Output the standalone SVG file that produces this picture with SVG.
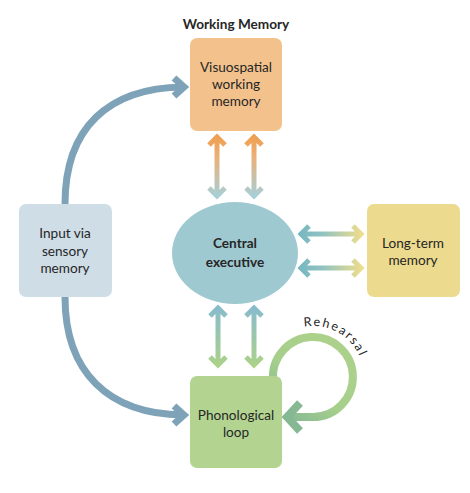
<svg xmlns="http://www.w3.org/2000/svg" width="470" height="493" viewBox="0 0 470 493">
<style>
.lbl{font-family:Lato,"Open Sans","Liberation Sans",sans-serif;font-size:13.6px;fill:#262626;text-anchor:middle}
.bold{font-weight:bold}
.dbl{fill:none;stroke-width:5}
.inp{fill:none;stroke:#7ea3b8;stroke-width:7}
</style>
<defs>
<linearGradient id="gUp" gradientUnits="userSpaceOnUse" x1="0" y1="137" x2="0" y2="197">
<stop offset="0" stop-color="#efa052"/><stop offset="0.35" stop-color="#eab07a"/><stop offset="1" stop-color="#a6d0d8"/>
</linearGradient>
<linearGradient id="gDown" gradientUnits="userSpaceOnUse" x1="0" y1="308" x2="0" y2="366">
<stop offset="0" stop-color="#88bccb"/><stop offset="1" stop-color="#acd28a"/>
</linearGradient>
<linearGradient id="gSide" gradientUnits="userSpaceOnUse" x1="300" y1="0" x2="362" y2="0">
<stop offset="0" stop-color="#78b8c0"/><stop offset="0.35" stop-color="#8fc2c2"/><stop offset="1" stop-color="#eedd8c"/>
</linearGradient>
<linearGradient id="gReh" gradientUnits="userSpaceOnUse" x1="350" y1="340" x2="285" y2="420">
<stop offset="0" stop-color="#add18a"/><stop offset="0.6" stop-color="#a6cf8c"/><stop offset="1" stop-color="#86b894"/>
</linearGradient>
<path id="rehPath" d="M313,428 A51,51 0 1 1 313,326 A51,51 0 1 1 313,428" transform="rotate(170 313 377)"/>
</defs>

<text class="lbl bold" x="236" y="29">Working Memory</text>

<g id="connectors">
<path class="inp" d="M65,204 C65,128 108,88 183,87"/>
<path class="inp" d="M174,78 L184,87 L174,96"/>
<path class="inp" d="M65,297 C65,372 108,414 183,415"/>
<path class="inp" d="M174,406 L184,415 L174,424"/>

<path class="dbl" stroke="url(#gUp)" d="M217,137 L217,196 M209,145 L217,137 L225,145 M209,188 L217,196 L225,188"/>
<path class="dbl" stroke="url(#gUp)" d="M254,137 L254,196 M246,145 L254,137 L262,145 M246,188 L254,196 L262,188"/>

<path class="dbl" stroke="url(#gDown)" d="M218,308 L218,365 M210,316 L218,308 L226,316 M210,357 L218,365 L226,357"/>
<path class="dbl" stroke="url(#gDown)" d="M254,308 L254,365 M246,316 L254,308 L262,316 M246,357 L254,365 L262,357"/>

<path class="dbl" stroke="url(#gSide)" d="M301,234 L361,234 M309,226 L301,234 L309,242 M353,226 L361,234 L353,242"/>
<path class="dbl" stroke="url(#gSide)" d="M301,268 L361,268 M309,260 L301,268 L309,276 M353,260 L361,268 L353,276"/>

<path fill="none" stroke="url(#gReh)" stroke-width="8" d="M273,380 A40,40 0 1 1 313,417 L288,417"/>
<path fill="none" stroke="#86b894" stroke-width="8" d="M300,403 L287,417 L300,431"/>
</g>

<g id="visuospatial">
<rect x="190" y="38" width="92" height="93" rx="7" fill="#f3c28c"/>
<text class="lbl" x="236" y="72">Visuospatial</text>
<text class="lbl" x="236" y="89">working</text>
<text class="lbl" x="236" y="106">memory</text>
</g>

<g id="input">
<rect x="19" y="204" width="93" height="93" rx="7" fill="#cfdde6"/>
<text class="lbl" x="65" y="238">Input via</text>
<text class="lbl" x="65" y="256">sensory</text>
<text class="lbl" x="65" y="273">memory</text>
</g>

<g id="central">
<ellipse cx="235" cy="253" rx="63" ry="51" fill="#9fc9d1"/>
<text class="lbl bold" x="235" y="248">Central</text>
<text class="lbl bold" x="235" y="267">executive</text>
</g>

<g id="longterm">
<rect x="367" y="204" width="93" height="93" rx="7" fill="#ecda8e"/>
<text class="lbl" x="413" y="248">Long-term</text>
<text class="lbl" x="413" y="265">memory</text>
</g>

<g id="phonological">
<rect x="190" y="376" width="92" height="92" rx="7" fill="#b3d491"/>
<text class="lbl" x="236" y="420">Phonological</text>
<text class="lbl" x="236" y="437">loop</text>
</g>

<g id="rehearsal">
<text font-family="Lato,'Open Sans','Liberation Sans',sans-serif" font-size="12.5" fill="#262626" letter-spacing="1.8"><textPath href="#rehPath" startOffset="0">Rehearsal</textPath></text>
</g>
</svg>
